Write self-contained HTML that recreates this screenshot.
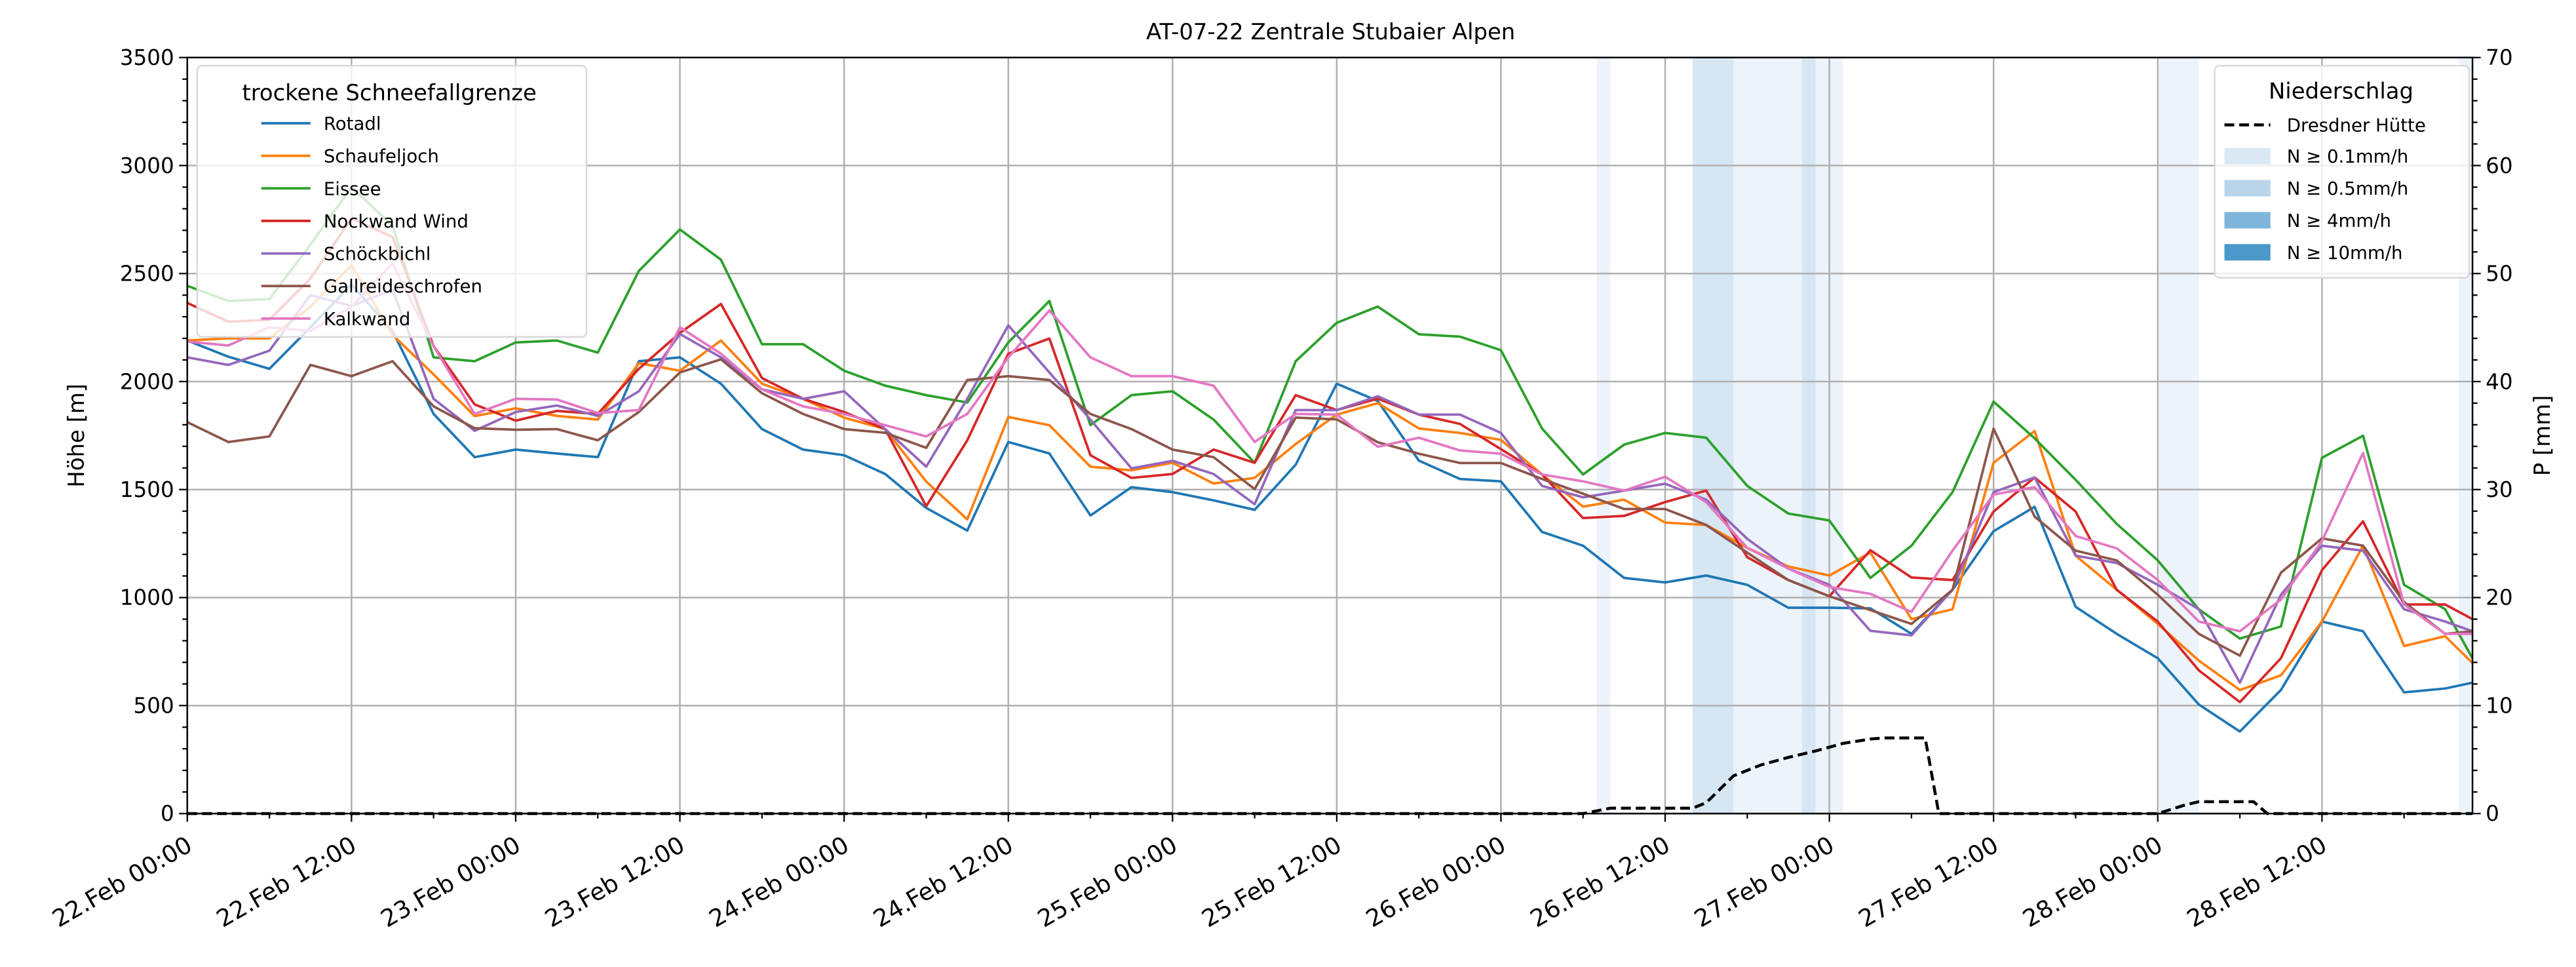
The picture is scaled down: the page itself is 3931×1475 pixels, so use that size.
<!DOCTYPE html>
<html><head><meta charset="utf-8"><style>
html,body{margin:0;padding:0;background:#fff}
svg{display:block;font-family:"DejaVu Sans","Liberation Sans",sans-serif}
</style></head><body>
<svg id="chart" width="3931" height="1475" viewBox="0 0 1568 588.35" preserveAspectRatio="none" xmlns="http://www.w3.org/2000/svg">
<rect x="0" y="0" width="1568" height="588.35" fill="#fff"/>
<g id="bands"></g>
<g id="grid"></g>
<g id="series"></g>
<g id="axes"></g>
<text x="810" y="24" font-size="13.5" text-anchor="middle">AT-07-22 Zentrale Stubaier Alpen</text>
<text transform="translate(51,265) rotate(-90)" font-size="13.5" text-anchor="middle">Höhe [m]</text>
<text transform="translate(1552,265) rotate(-90)" font-size="13.5" text-anchor="middle">P [mm]</text>
<g id="legend-left">
<rect x="120" y="40" width="237" height="165" rx="3" fill="#fff" fill-opacity="0.8" stroke="#d9d9d9" stroke-width="1"/>
<text x="237" y="61" font-size="13.5" text-anchor="middle">trockene Schneefallgrenze</text>
</g>
<g id="legend-right">
<rect x="1348" y="40" width="155" height="129" rx="3" fill="#fff" fill-opacity="0.8" stroke="#d9d9d9" stroke-width="1"/>
<text x="1425" y="60" font-size="13.5" text-anchor="middle">Niederschlag</text>
</g>
</svg>
<script>
const times=[0,3,6,9,12,15,18,21,24,27,30,33,36,39,42,45,48,51,54,57,60,63,66,69,72,75,78,81,84,87,90,93,96,99,102,105,108,111,114,117,120,123,126,129,132,135,138,141,144,147,150,153,156,159,162,165,167];
const seriesNames=["Rotadl","Schaufeljoch","Eissee","Nockwand Wind","Schöckbichl","Gallreideschrofen","Kalkwand"];
const rotadl=[2190,2115,2059,2251,2450,2234,1850,1650,1685,1667,1650,2094,2112,1990,1780,1685,1659,1572,1415,1310,1720,1667,1380,1511,1488,1450,1406,1615,1990,1910,1634,1549,1538,1304,1240,1091,1070,1102,1059,953,953,950,832,1036,1307,1420,957,832,719,505,380,572,889,844,561,579,606];
const schaufeljoch=[2190,2200,2200,2347,2538,2216,2033,1840,1876,1841,1824,2085,2050,2190,1990,1920,1833,1780,1537,1362,1836,1798,1606,1589,1624,1528,1554,1711,1847,1900,1783,1762,1730,1570,1421,1453,1347,1336,1230,1144,1102,1208,900,946,1624,1771,1194,1036,878,708,572,640,889,1240,776,821,697];
const eissee=[2443,2373,2382,2634,2900,2721,2112,2094,2181,2190,2134,2512,2704,2564,2173,2173,2050,1981,1937,1903,2181,2373,1798,1937,1955,1824,1624,2094,2272,2347,2219,2208,2145,1783,1570,1708,1762,1740,1517,1389,1357,1091,1240,1488,1907,1737,1545,1341,1172,946,810,866,1647,1749,1059,946,719];
const nockwand=[2364,2277,2286,2477,2756,2669,2164,1894,1819,1864,1850,2059,2225,2359,2016,1920,1859,1780,1423,1728,2129,2199,1659,1554,1572,1685,1624,1937,1868,1921,1847,1804,1687,1570,1368,1378,1442,1495,1187,1081,1006,1219,1093,1081,1398,1556,1398,1036,889,663,516,719,1127,1353,968,968,900];
const schoeckbichl=[2112,2077,2143,2400,2350,2425,1920,1772,1859,1889,1841,1955,2220,2112,1964,1920,1955,1780,1606,1920,2260,2042,1824,1598,1633,1572,1432,1868,1868,1932,1847,1847,1762,1517,1464,1495,1527,1453,1272,1134,1059,846,825,1036,1488,1556,1194,1160,1059,946,606,1013,1240,1217,946,889,844];
const gallreide=[1812,1720,1746,2077,2025,2094,1885,1784,1777,1780,1728,1859,2042,2103,1946,1850,1780,1763,1693,2007,2025,2007,1850,1780,1685,1650,1502,1833,1825,1719,1666,1623,1623,1549,1481,1410,1410,1336,1208,1081,1006,942,878,1036,1782,1375,1217,1172,1013,832,731,1115,1274,1240,979,832,844];
const kalkwand=[2185,2167,2251,2234,2347,2547,2164,1850,1920,1917,1854,1868,2251,2129,1964,1885,1850,1798,1746,1850,2112,2329,2112,2025,2025,1981,1720,1850,1847,1698,1740,1681,1666,1570,1538,1495,1559,1442,1230,1134,1049,1017,934,1217,1477,1511,1285,1228,1081,889,844,991,1262,1669,968,832,832];
const precipTimes=[0,102,104,110,111,113,115,117,119,121,123,124,127,128,144,146,147,151,152,167];
const precipValues=[0,0,0.5,0.5,1,3.5,4.5,5.2,5.8,6.5,6.9,7,7,0,0,0.8,1.1,1.1,0,0];
const bandStarts=[103,110,113,118,119,144,166];
const bandEnds=[104,113,118,119,121,147,167];
const bandLevels=[0,1,0,1,0,0,0];
const xTickLabels=["22.Feb 00:00","22.Feb 12:00","23.Feb 00:00","23.Feb 12:00","24.Feb 00:00","24.Feb 12:00","25.Feb 00:00","25.Feb 12:00","26.Feb 00:00","26.Feb 12:00","27.Feb 00:00","27.Feb 12:00","28.Feb 00:00","28.Feb 12:00"];
const yTicks=[0,500,1000,1500,2000,2500,3000,3500];
const y2Ticks=[0,10,20,30,40,50,60,70];

const NS="http://www.w3.org/2000/svg";
const X0=114,X1=1505,Y0=495,Y1=35,TMAX=167;
function xs(t){return X0+t*(X1-X0)/TMAX;}
function ys(v){return Y0-v/3500*(Y0-Y1);}
function yr(p){return Y0-p/70*(Y0-Y1);}
function mk(tag,attrs,parent){const e=document.createElementNS(NS,tag);for(const k in attrs)e.setAttribute(k,attrs[k]);parent.appendChild(e);return e;}
const bands=document.getElementById('bands'),grid=document.getElementById('grid'),ser=document.getElementById('series'),axes=document.getElementById('axes');
const bandColors=["#edf3fa","#d6e6f3","#b7d4ea","#4b98ca"];
bandStarts.forEach((s,i)=>{
  const r=mk('rect',{x:xs(s),y:Y1,width:xs(bandEnds[i])-xs(s),height:Y0-Y1,fill:bandColors[bandLevels[i]]},bands);
  
  
});
xTickLabels.forEach((l,i)=>{
  const x=xs(i*12);
  const g=mk('line',{x1:x,x2:x,y1:Y1,y2:Y0,stroke:"#b0b0b0","stroke-width":1},grid);
  
  
});
yTicks.forEach(v=>{
  const g=mk('line',{x1:X0,x2:X1,y1:ys(v),y2:ys(v),stroke:"#b0b0b0","stroke-width":1},grid);
  
  
});
const colors=["#1f77b4","#ff7f0e","#2ca02c","#d62728","#9467bd","#8c564b","#e377c2"];
const allSeries=[rotadl,schaufeljoch,eissee,nockwand,schoeckbichl,gallreide,kalkwand];
allSeries.forEach((vals,si)=>{
  const pts=vals.map((v,i)=>xs(times[i]).toFixed(2)+","+ys(v).toFixed(2)).join(" ");
  const p=mk('polyline',{points:pts,fill:"none",stroke:colors[si],"stroke-width":1.5,"stroke-linejoin":"round"},ser);
  
  
});
const pp=precipTimes.map((t,i)=>xs(t).toFixed(2)+","+yr(precipValues[i]).toFixed(2)).join(" ");
const pl=mk('polyline',{points:pp,fill:"none",stroke:"#000","stroke-width":1.8,"stroke-dasharray":"6,3"},ser);


const fr=mk('rect',{x:X0,y:Y1,width:X1-X0,height:Y0-Y1,fill:"none",stroke:"#000","stroke-width":1},axes);


for(let t=0;t<=TMAX;t+=6){
  const major=t%12===0;
  mk('line',{x1:xs(t),x2:xs(t),y1:Y0,y2:Y0+(major?5:3),stroke:"#000","stroke-width":0.9},axes);
}
xTickLabels.forEach((l,i)=>{
  const x=xs(i*12);
  const tx=mk('text',{transform:`translate(${x+4},${Y0+22}) rotate(-30)`,"font-size":14.5,"text-anchor":"end"},axes);
  tx.textContent=l;
  
  
});
for(let v=0;v<=3500;v+=100){
  const major=v%500===0;
  mk('line',{x1:X0,x2:X0-(major?5:3),y1:ys(v),y2:ys(v),stroke:"#000","stroke-width":0.9},axes);
}
yTicks.forEach(v=>{
  const tx=mk('text',{x:X0-8,y:ys(v)+4.5,"font-size":13,"text-anchor":"end"},axes);
  tx.textContent=v;
  
  
});
for(let p=0;p<=70;p+=2){
  const major=p%10===0;
  mk('line',{x1:X1,x2:X1+(major?5:3),y1:yr(p),y2:yr(p),stroke:"#000","stroke-width":0.9},axes);
}
y2Ticks.forEach(p=>{
  const tx=mk('text',{x:X1+8,y:yr(p)+4.5,"font-size":13,"text-anchor":"start"},axes);
  tx.textContent=p;
  
  
});
const LL=document.getElementById('legend-left');
seriesNames.forEach((n,i)=>{
  const y=75+i*19.8;
  const l=mk('line',{x1:159,x2:189,y1:y,y2:y,stroke:colors[i],"stroke-width":1.5},LL);
  
  
  const t=mk('text',{x:197,y:y+4,"font-size":11},LL);
  t.textContent=n;
  
  
});
const LR=document.getElementById('legend-right');
const rl=mk('line',{x1:1354,x2:1382,y1:76,y2:76,stroke:"#000","stroke-width":1.8,"stroke-dasharray":"6,3"},LR);


const rt=mk('text',{x:1392,y:80,"font-size":11},LR);
rt.textContent="Dresdner Hütte";


const precipLabels=["N ≥ 0.1mm/h","N ≥ 0.5mm/h","N ≥ 4mm/h","N ≥ 10mm/h"];
const swatchColors=["#dae8f4","#b7d4ea","#7fb5d9","#4b98ca"];
precipLabels.forEach((n,i)=>{
  const y=95+i*19.5;
  const r=mk('rect',{x:1354,y:y-5,width:28,height:10,fill:swatchColors[i]},LR);
  
  
  const t=mk('text',{x:1392,y:y+4,"font-size":11},LR);
  t.textContent=n;
  
  
});
</script>
</body></html>
